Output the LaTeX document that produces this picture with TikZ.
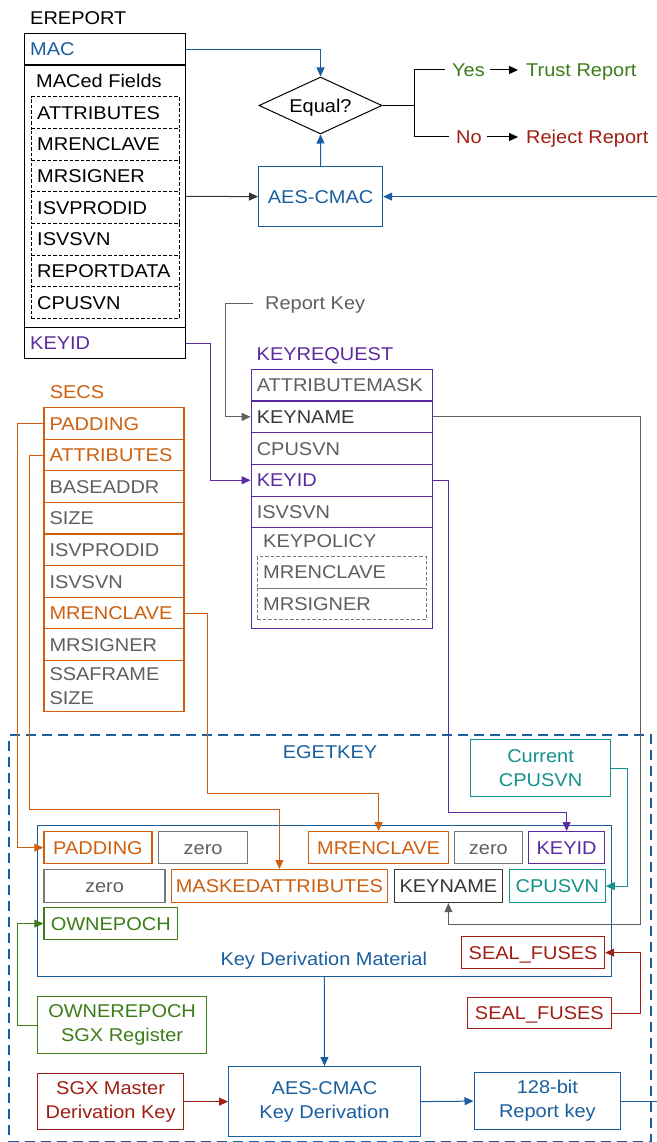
\documentclass[tikz,border=0pt]{standalone}
\usepackage{fontspec}
\setmainfont{Liberation Sans}[FakeStretch=1.08]
\usetikzlibrary{arrows.meta,shapes.geometric,calc}
\definecolor{cblue}{RGB}{25,95,160}
\definecolor{cpurple}{RGB}{92,42,160}
\definecolor{corange}{RGB}{205,95,15}
\definecolor{cgreen}{RGB}{60,125,25}
\definecolor{cred}{RGB}{160,30,20}
\definecolor{cteal}{RGB}{20,145,140}
\definecolor{cgray}{RGB}{95,95,95}
\definecolor{cgrayl}{RGB}{120,120,120}
\definecolor{cdark}{RGB}{55,55,55}
\newcommand\dgfont{\fontsize{18.5}{24}\selectfont}
\newcommand\mkrow[8]{%
  \node[bx,#6,anchor=north west,minimum width=#4,minimum height=#5] (#1) at (#2,#3) {};
  \node[txt,#7,anchor=west] (#1t) at ([xshift=6pt]#1.west) {#8};}
\newcommand\mkbox[7]{%
  \node[cbox,#6,minimum width=#4,minimum height=#5] (#1) at (#2,#3) {#7};}
\tikzset{
  txt/.style={inner sep=0pt,text height=13.3pt,text depth=0pt},
  one/.style={text height=13.3pt,text depth=0pt},
  bx/.style={draw,line width=1.2pt,inner sep=0pt},
  dbx/.style={draw,line width=0.9pt,dash pattern=on 3.5pt off 2pt},
  cbox/.style={draw,line width=1.2pt,inner sep=0pt,anchor=north west,align=center},
  arr/.style={-{Triangle[length=9pt,width=8pt]},line width=1pt},
  ln/.style={line width=1pt},
}
\begin{document}
\begin{tikzpicture}[x=1pt,y=-1pt,every node/.append style={font=\dgfont}]
\useasboundingbox (0,0) rectangle (656,1142);
\fill[white] (0,0) rectangle (656,1142);

% ---------- EREPORT ----------
\node[txt,anchor=west] (ertitle) at (30,17.5) {EREPORT};
\mkrow{mac}{24}{33}{161}{31.5}{}{text=cblue}{MAC}
\node[bx,anchor=north west,minimum width=161,minimum height=262.5] (maced) at (24,64.5) {};
\node[txt,anchor=west] (macedt) at (36,81) {MACed Fields};
\mkrow{d1}{31}{96.5}{148}{31.6}{dbx}{}{ATTRIBUTES}
\mkrow{d2}{31}{128.1}{148}{31.6}{dbx}{}{MRENCLAVE}
\mkrow{d3}{31}{159.7}{148}{31.6}{dbx}{}{MRSIGNER}
\mkrow{d4}{31}{191.3}{148}{31.6}{dbx}{}{ISVPRODID}
\mkrow{d5}{31}{222.9}{148}{31.6}{dbx}{}{ISVSVN}
\mkrow{d6}{31}{254.5}{148}{31.6}{dbx}{}{REPORTDATA}
\mkrow{d7}{31}{286.1}{148}{31.6}{dbx}{}{CPUSVN}
\mkrow{erkid}{24}{327}{161}{31}{}{text=cpurple}{KEYID}

% ---------- compare ----------
\node[diamond,draw,line width=1pt,aspect=2.2,minimum width=123,minimum height=57,inner sep=0pt,one] (eq) at (320.5,105.5) {Equal?};
\mkbox{aes}{258}{166}{124}{60}{draw=cblue,text=cblue,one}{AES-CMAC}
\coordinate (split) at (414,105.5);
\node[txt,anchor=west,text=cgreen] (yes) at (452,70) {Yes};
\node[txt,anchor=west,text=cgreen] (trust) at (526,70) {Trust Report};
\node[txt,anchor=west,text=cred] (no) at (456,137) {No};
\node[txt,anchor=west,text=cred] (reject) at (526,137) {Reject Report};

% ---------- KEYREQUEST ----------
\node[txt,anchor=west,text=cgray] (rkl) at (265,303) {Report Key};
\node[txt,anchor=west,text=cpurple] (krtitle) at (256.5,354) {KEYREQUEST};
\mkrow{kr1}{250.6}{368.7}{181.4}{31.7}{draw=cpurple}{text=cgray}{ATTRIBUTEMASK}
\mkrow{kr2}{250.6}{400.4}{181.4}{31.7}{draw=cpurple}{text=cdark}{KEYNAME}
\mkrow{kr3}{250.6}{432.1}{181.4}{31.7}{draw=cpurple}{text=cgray}{CPUSVN}
\mkrow{kr4}{250.6}{463.8}{181.4}{31.7}{draw=cpurple}{text=cpurple}{KEYID}
\mkrow{kr5}{250.6}{495.5}{181.4}{31.7}{draw=cpurple}{text=cgray}{ISVSVN}
\node[bx,draw=cpurple,anchor=north west,minimum width=181.4,minimum height=100.8] (kr6) at (250.6,527.2) {};
\node[txt,anchor=west,text=cgray] (kr6t) at (263,541) {KEYPOLICY};
\mkrow{kp1}{257}{556}{168.6}{31.7}{dbx,draw=cgrayl}{text=cgray}{MRENCLAVE}
\mkrow{kp2}{257}{587.7}{168.6}{31.7}{dbx,draw=cgrayl}{text=cgray}{MRSIGNER}

% ---------- SECS ----------
\node[txt,anchor=west,text=corange] (secst) at (49.6,391.5) {SECS};
\mkrow{s1}{43.3}{407}{140}{31.6}{draw=corange}{text=corange}{PADDING}
\mkrow{s2}{43.3}{438.6}{140}{31.6}{draw=corange}{text=corange}{ATTRIBUTES}
\mkrow{s3}{43.3}{470.2}{140}{31.6}{draw=corange}{text=cgray}{BASEADDR}
\mkrow{s4}{43.3}{501.8}{140}{31.6}{draw=corange}{text=cgray}{SIZE}
\mkrow{s5}{43.3}{533.4}{140}{31.6}{draw=corange}{text=cgray}{ISVPRODID}
\mkrow{s6}{43.3}{565}{140}{31.6}{draw=corange}{text=cgray}{ISVSVN}
\mkrow{s7}{43.3}{596.6}{140}{31.6}{draw=corange}{text=corange}{MRENCLAVE}
\mkrow{s8}{43.3}{628.2}{140}{31.6}{draw=corange}{text=cgray}{MRSIGNER}
\node[bx,draw=corange,anchor=north west,minimum width=140,minimum height=51.2] (s9) at (43.3,659.8) {};
\node[inner sep=0pt,anchor=west,align=left,text=cgray] (s9t) at ([xshift=6pt]s9.west) {SSAFRAME\\SIZE};

% ---------- EGETKEY ----------
\node[draw=cblue,line width=2pt,dash pattern=on 10pt off 6pt,anchor=north west,minimum width=641.6,minimum height=407,inner sep=0pt] (egk) at (8.4,734) {};
\node[txt,text=cblue] (egkt) at (330,751.5) {EGETKEY};
\mkbox{ccpu}{470}{739}{140}{57}{draw=cteal,text=cteal}{Current\\CPUSVN}
\node[bx,draw=cblue,line width=1pt,anchor=north west,minimum width=573.6,minimum height=151] (kdm) at (37,825) {};
\node[txt,text=cblue] (kdmt) at (323.8,959) {Key Derivation Material};
\mkbox{kpad}{43.3}{831}{108.1}{32}{draw=corange,text=corange,one}{PADDING}
\mkbox{kz1}{158}{831}{89}{32}{draw=cgrayl,text=cgray,one}{zero}
\mkbox{kmr}{308}{831}{140}{32}{draw=corange,text=corange,one}{MRENCLAVE}
\mkbox{kz2}{454}{831}{67.5}{32}{draw=cgrayl,text=cgray,one}{zero}
\mkbox{kid}{528}{831}{76}{32}{draw=cpurple,text=cpurple,one}{KEYID}
\mkbox{kz3}{43.3}{869}{121.1}{33}{draw=cgrayl,text=cgray,one}{zero}
\mkbox{kmask}{170.7}{869}{216.3}{33}{draw=corange,text=corange,one}{MASKEDATTRIBUTES}
\mkbox{kn}{393.6}{869}{108.4}{33}{draw=cdark,text=cdark,one}{KEYNAME}
\mkbox{kcpu}{508.8}{869}{95.9}{33}{draw=cteal,text=cteal,one}{CPUSVN}
\mkbox{kown}{43.3}{907}{133.7}{32}{draw=cgreen,text=cgreen,one}{OWNEPOCH}
\mkbox{sf1}{461}{936}{143}{32}{draw=cred,text=cred,one}{SEAL\_FUSES}
\mkbox{ownr}{37}{996}{169}{57}{draw=cgreen,text=cgreen}{OWNEREPOCH\\SGX Register}
\mkbox{sf2}{467}{997}{143.6}{31}{draw=cred,text=cred,one}{SEAL\_FUSES}
\mkbox{mk}{37}{1073}{146}{56}{draw=cred,text=cred}{SGX Master\\Derivation Key}
\mkbox{aeskd}{228}{1066}{191.7}{70}{draw=cblue,text=cblue}{AES-CMAC\\Key Derivation}
\mkbox{rk}{473.5}{1072}{146.5}{57}{draw=cblue,text=cblue}{128-bit\\Report key}

% ---------- connectors ----------
\draw[arr,cblue] (mac.east) -| (eq.north);
\draw[arr,cdark] (maced.east) -- (aes.west);
\draw[arr,cblue] (aes.north) -- (eq.south);
\draw[arr,cblue] (rk.east) -- ++(45,0) |- (aes.east);
\draw[ln] (eq.east) -- (split);
\draw[ln,shorten >=7pt] (split) |- (yes.west);
\draw[ln,shorten >=7pt] (split) |- (no.west);
\draw[arr,shorten <=5pt,shorten >=8pt] (yes.east) -- (trust.west);
\draw[arr,shorten <=5pt,shorten >=8pt] (no.east) -- (reject.west);
\draw[arr,cgray] (rkl.west) ++(-12,0) -- ++(-28,0) |- (kr2.west);
\draw[arr,cpurple] (erkid.east) -- ++(24,0) |- (kr4.west);
\draw[arr,cgray] (kr2.east) -- ++(207,0) |- ($(kn.south)+(0,21)$) -- (kn.south);
\draw[arr,cpurple] (kr4.east) -- ++(15,0) |- ($(kid.north)+(0,-19)$) -- (kid.north);
\draw[arr,corange] (s1.west) -- ++(-25.6,0) |- (kpad.west);
\draw[arr,corange] (s2.west) -- ++(-14,0) |- ($(kmask.north)+(0,-60)$) -- (kmask.north);
\draw[arr,corange] (s7.east) -- ++(23,0) |- ($(kmr.north)+(0,-38)$) -- (kmr.north);
\draw[arr,cteal] (ccpu.east) -- ++(16.6,0) |- (kcpu.east);
\draw[arr,cgreen] (ownr.west) -- ++(-19.3,0) |- (kown.west);
\draw[arr,cred] (sf2.east) -- ++(29,0) |- (sf1.east);
\draw[arr,cblue] (kdm.south) -- (aeskd.north);
\draw[arr,cred] (mk.east) -- (aeskd.west);
\draw[arr,cblue] (aeskd.east) -- (rk.west);
\end{tikzpicture}
\end{document}
